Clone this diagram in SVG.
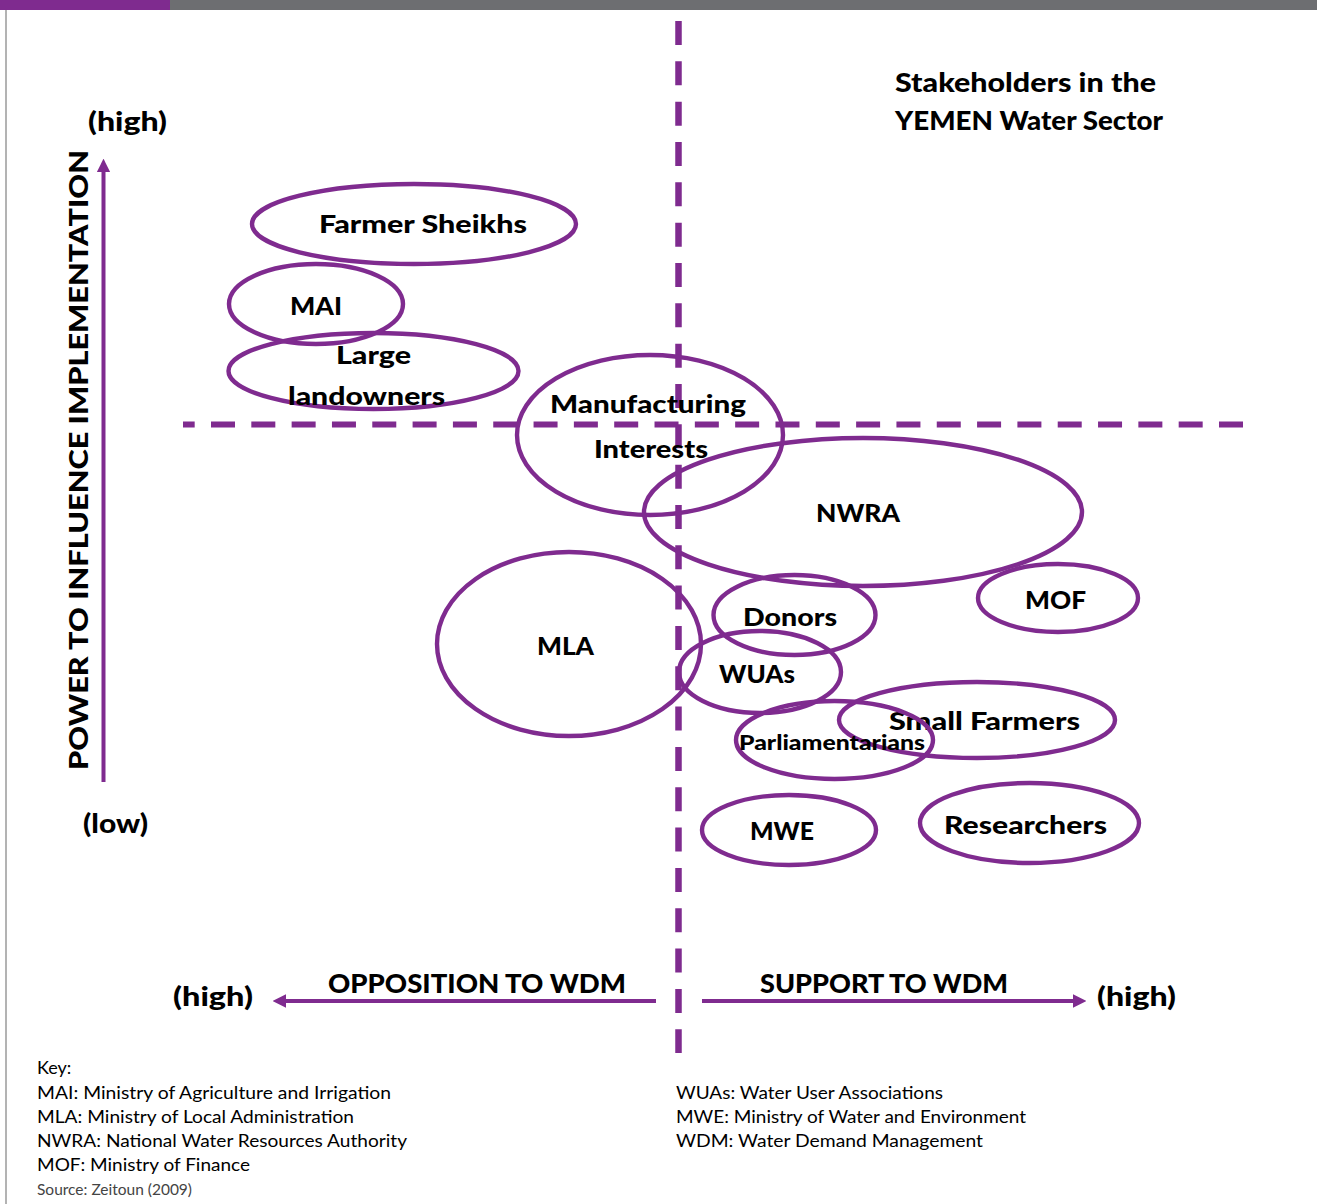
<svg xmlns="http://www.w3.org/2000/svg" width="1317" height="1204" viewBox="0 0 1317 1204">
<style>
.node{fill:none;stroke:#7f2b8f;stroke-width:4.4}
.lbl{font-family:Lato,"Liberation Sans",sans-serif;font-weight:900;font-size:25px;fill:#000}
.small{font-size:21px}
.axis{font-family:Lato,"Liberation Sans",sans-serif;font-weight:900;font-size:26px;fill:#000}
.key{font-family:Lato,"Liberation Sans",sans-serif;font-size:18px;fill:#000}
.src{font-family:Lato,"Liberation Sans",sans-serif;font-size:15px;fill:#444}
.dash{stroke:#7f2b8f;fill:none}
.arr{stroke:#7f2b8f;stroke-width:4;fill:none}
</style>
<defs>
<marker id="ah" viewBox="0 0 12 12" refX="2" refY="6" markerWidth="3.4" markerHeight="3.4" markerUnits="strokeWidth" orient="auto">
<path d="M0,0 L12,6 L0,12 z" fill="#7f2b8f"/>
</marker>
</defs>
<rect width="1317" height="1204" fill="#fff"/>
<rect x="0" y="0" width="170" height="10" fill="#7f2b8f"/>
<rect x="170" y="0" width="1147" height="10" fill="#6d6e71"/>
<line x1="6" y1="10" x2="6" y2="1204" stroke="#9a9a9a" stroke-width="1.5"/>

<g id="axes">
<line class="dash" x1="678.5" y1="21" x2="678.5" y2="1053" stroke-width="6.5" stroke-dasharray="24 16.33"/>
<line class="dash" x1="1243" y1="424.5" x2="183" y2="424.5" stroke-width="6" stroke-dasharray="24 16.32"/>
<line class="arr" x1="103.5" y1="782" x2="103.5" y2="170" marker-end="url(#ah)"/>
<line class="arr" x1="656" y1="1001" x2="284" y2="1001" marker-end="url(#ah)"/>
<line class="arr" x1="702" y1="1001" x2="1075" y2="1001" marker-end="url(#ah)"/>
</g>

<g id="axis-labels">
<text class="axis" x="88" y="131" textLength="79" lengthAdjust="spacingAndGlyphs">(high)</text>
<text class="axis" x="83" y="833" textLength="65" lengthAdjust="spacingAndGlyphs">(low)</text>
<text class="axis" transform="translate(88,770) rotate(-90)" font-size="30" textLength="620" lengthAdjust="spacingAndGlyphs">POWER TO INFLUENCE IMPLEMENTATION</text>
<text class="axis" x="173" y="1006" textLength="80" lengthAdjust="spacingAndGlyphs">(high)</text>
<text class="axis" x="328" y="993" textLength="298" lengthAdjust="spacingAndGlyphs">OPPOSITION TO WDM</text>
<text class="axis" x="760" y="993" textLength="248" lengthAdjust="spacingAndGlyphs">SUPPORT TO WDM</text>
<text class="axis" x="1097" y="1006" textLength="79" lengthAdjust="spacingAndGlyphs">(high)</text>
</g>

<g id="title">
<text class="axis" x="895" y="92" textLength="261" lengthAdjust="spacingAndGlyphs">Stakeholders in the</text>
<text class="axis" x="895" y="130" textLength="268" lengthAdjust="spacingAndGlyphs">YEMEN Water Sector</text>
</g>

<g id="farmer-sheikhs">
<ellipse class="node" cx="414" cy="224" rx="162" ry="40"/>
<text class="lbl" x="319" y="233" textLength="208" lengthAdjust="spacingAndGlyphs">Farmer Sheikhs</text>
</g>
<g id="mai">
<ellipse class="node" cx="316" cy="304" rx="87" ry="40"/>
<text class="lbl" x="290" y="315" textLength="52" lengthAdjust="spacingAndGlyphs">MAI</text>
</g>
<g id="large-landowners">
<ellipse class="node" cx="373.5" cy="371" rx="145" ry="38"/>
<text class="lbl" x="336" y="364" textLength="75" lengthAdjust="spacingAndGlyphs">Large</text>
<text class="lbl" x="288" y="405" textLength="157" lengthAdjust="spacingAndGlyphs">landowners</text>
</g>
<g id="manufacturing-interests">
<ellipse class="node" cx="650" cy="435" rx="133" ry="80"/>
<text class="lbl" x="550" y="413" textLength="196" lengthAdjust="spacingAndGlyphs">Manufacturing</text>
<text class="lbl" x="594" y="458" textLength="114" lengthAdjust="spacingAndGlyphs">Interests</text>
</g>
<g id="nwra">
<ellipse class="node" cx="863" cy="512" rx="219" ry="74"/>
<text class="lbl" x="816" y="522" textLength="84" lengthAdjust="spacingAndGlyphs">NWRA</text>
</g>
<g id="mof">
<ellipse class="node" cx="1058" cy="598" rx="80" ry="34"/>
<text class="lbl" x="1025" y="609" textLength="61" lengthAdjust="spacingAndGlyphs">MOF</text>
</g>
<g id="mla">
<ellipse class="node" cx="569" cy="644" rx="132" ry="92"/>
<text class="lbl" x="537" y="655" textLength="57" lengthAdjust="spacingAndGlyphs">MLA</text>
</g>
<g id="donors">
<ellipse class="node" cx="794.5" cy="615" rx="81" ry="40"/>
<text class="lbl" x="743" y="626" textLength="94" lengthAdjust="spacingAndGlyphs">Donors</text>
</g>
<g id="wuas">
<ellipse class="node" cx="760" cy="672" rx="81" ry="41"/>
<text class="lbl" x="719" y="683" textLength="76" lengthAdjust="spacingAndGlyphs">WUAs</text>
</g>
<g id="small-farmers">
<ellipse class="node" cx="977" cy="720" rx="138" ry="38"/>
<text class="lbl" x="889" y="730" textLength="191" lengthAdjust="spacingAndGlyphs">Small Farmers</text>
</g>
<g id="parliamentarians">
<ellipse class="node" cx="834.5" cy="740" rx="98.5" ry="39"/>
<text class="lbl small" x="739" y="750" textLength="186" lengthAdjust="spacingAndGlyphs">Parliamentarians</text>
</g>
<g id="mwe">
<ellipse class="node" cx="789" cy="830" rx="87" ry="35"/>
<text class="lbl" x="750" y="840" textLength="64" lengthAdjust="spacingAndGlyphs">MWE</text>
</g>
<g id="researchers">
<ellipse class="node" cx="1029.5" cy="823" rx="109.5" ry="40"/>
<text class="lbl" x="944" y="834" textLength="163" lengthAdjust="spacingAndGlyphs">Researchers</text>
</g>

<g id="key">
<text class="key" x="37" y="1074">Key:</text>
<text class="key" x="37" y="1099" textLength="354" lengthAdjust="spacingAndGlyphs">MAI: Ministry of Agriculture and Irrigation</text>
<text class="key" x="37" y="1123" textLength="317" lengthAdjust="spacingAndGlyphs">MLA: Ministry of Local Administration</text>
<text class="key" x="37" y="1147" textLength="370" lengthAdjust="spacingAndGlyphs">NWRA: National Water Resources Authority</text>
<text class="key" x="37" y="1171" textLength="213" lengthAdjust="spacingAndGlyphs">MOF: Ministry of Finance</text>
<text class="src" x="37" y="1195" textLength="155" lengthAdjust="spacingAndGlyphs">Source: Zeitoun (2009)</text>
<text class="key" x="676" y="1099" textLength="267" lengthAdjust="spacingAndGlyphs">WUAs: Water User Associations</text>
<text class="key" x="676" y="1123" textLength="350" lengthAdjust="spacingAndGlyphs">MWE: Ministry of Water and Environment</text>
<text class="key" x="676" y="1147" textLength="307" lengthAdjust="spacingAndGlyphs">WDM: Water Demand Management</text>
</g>
</svg>
